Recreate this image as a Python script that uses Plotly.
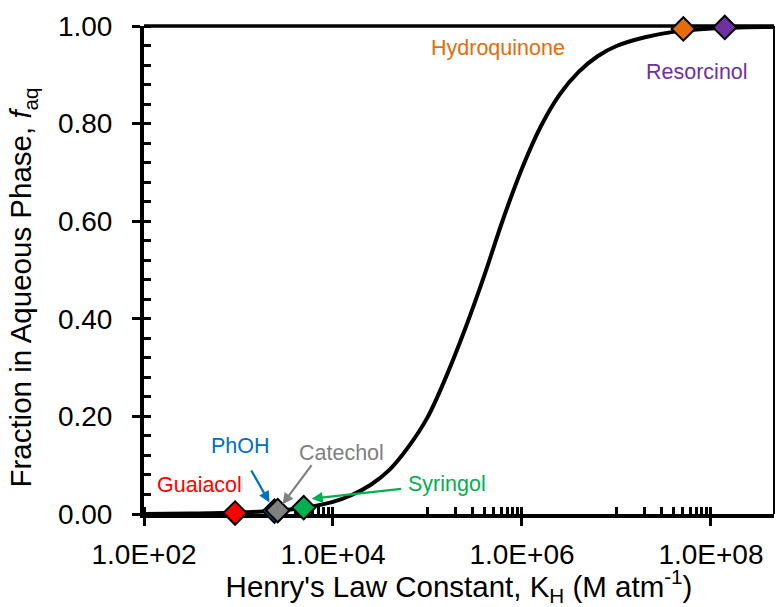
import math
import plotly.graph_objects as go

# ---- data ----
K_curve = [1.0e2, 3.16e2, 1.0e3, 2.51e3, 5.01e3, 1.0e4, 1.58e4, 2.51e4, 3.98e4, 6.31e4,
           1.0e5, 1.58e5, 2.51e5, 3.98e5, 6.31e5, 1.0e6, 1.58e6, 2.51e6, 3.98e6, 6.31e6,
           1.0e7, 2.0e7, 3.98e7, 1.0e8, 4.6e8]
f_curve = [0.000, 0.001, 0.003, 0.007, 0.013, 0.025, 0.039, 0.060, 0.091, 0.138,
           0.198, 0.282, 0.380, 0.488, 0.604, 0.708, 0.794, 0.860, 0.906, 0.938,
           0.959, 0.977, 0.988, 0.995, 0.998]

compounds = ["Guaiacol", "PhOH", "Catechol", "Syringol", "Hydroquinone", "Resorcinol"]
K_comp = [9.2e2, 2.4e3, 2.6e3, 4.9e3, 5.1e7, 1.4e8]
f_comp = [0.002, 0.006, 0.007, 0.013, 0.994, 0.997]
colors = ["#FF0000", "#0070C0", "#808080", "#00B050", "#E46C0A", "#7030A0"]

# label centres (K, f)
label_K = [3.86e2, 1.06e3, 1.23e4, 1.59e5, 5.64e5, 7.03e7]
label_f = [0.059, 0.139, 0.125, 0.062, 0.955, 0.906]

x_major = [1e2, 1e4, 1e6, 1e8]
x_major_text = ["1.0E+02", "1.0E+04", "1.0E+06", "1.0E+08"]
x_minor = [k * 10 ** e for e in (3, 5, 7) for k in range(1, 10)] + x_major
y_major = [0.0, 0.2, 0.4, 0.6, 0.8, 1.0]
y_major_text = ["0.00", "0.20", "0.40", "0.60", "0.80", "1.00"]
y_minor = [round(0.04 * i, 2) for i in range(26)]

x_title = "Henry's Law Constant, K<sub>H</sub> (M atm<sup>-1</sup>)"
y_title = "Fraction in Aqueous Phase, <i>f</i><sub>aq</sub>"

FONT = "Liberation Sans, Arial, Helvetica, sans-serif"

fig = go.Figure()
fig.add_trace(go.Scatter(x=K_curve, y=f_curve, mode="lines",
                         line=dict(color="black", width=4, shape="spline", smoothing=1.0),
                         hoverinfo="skip", showlegend=False, cliponaxis=False))
for name, k, f, c in zip(compounds, K_comp, f_comp, colors):
    fig.add_trace(go.Scatter(x=[k], y=[f], mode="markers", name=name,
                             marker=dict(symbol="diamond", size=18, color=c,
                                         line=dict(color="black", width=2)),
                             showlegend=False, cliponaxis=False))

# text labels
for name, k, f, c in zip(compounds, label_K, label_f, colors):
    fig.add_annotation(x=math.log10(k), y=f, xref="x", yref="y", text=name,
                       showarrow=False, font=dict(family=FONT, size=21.5, color=c),
                       xanchor="center", yanchor="middle")

# arrows (PhOH, Catechol, Syringol)
arrows = [(1, -24, -42, 10, 0), (2, 35, -47, 8, 0), (3, 99, -11, 8, 8)]
for idx, axp, ayp, so, ys in arrows:
    fig.add_annotation(x=math.log10(K_comp[idx]), y=f_comp[idx], xref="x", yref="y",
                       text="", showarrow=True, ax=axp, ay=ayp, standoff=so, yshift=ys,
                       arrowhead=2, arrowsize=1, arrowwidth=2.2, arrowcolor=colors[idx])

# y-axis title (placed as rotated text, as in the reference it sits below centre)
fig.add_annotation(x=-0.192, y=0.464, xref="paper", yref="paper", text=y_title,
                   textangle=-90, showarrow=False, xanchor="center", yanchor="middle",
                   font=dict(family=FONT, size=29.5, color="black"))

# frame: top and right
fig.add_shape(type="line", xref="paper", yref="paper", x0=0, x1=1, y0=1, y1=1,
              line=dict(color="black", width=3.5), layer="below")
fig.add_shape(type="line", xref="paper", yref="paper", x0=1, x1=1, y0=0, y1=1,
              line=dict(color="black", width=2), layer="below")

fig.update_xaxes(type="log", range=[2, 8.667], tickmode="array", tickvals=x_major,
                 ticktext=x_major_text, ticks="outside", ticklen=8, tickwidth=3,
                 tickcolor="black", showline=True, linecolor="black", linewidth=4,
                 showgrid=False, zeroline=False, layer="below traces", automargin=False,
                 ticklabelstandoff=4,
                 tickfont=dict(family=FONT, size=28, color="black"),
                 minor=dict(tickmode="array", tickvals=x_minor, ticks="inside",
                            ticklen=7, tickwidth=3, tickcolor="black", showgrid=False),
                 title=dict(text=x_title,
                            font=dict(family=FONT, size=29.5, color="black"), standoff=9))
fig.update_yaxes(range=[0, 1], tickmode="array", tickvals=y_major, ticktext=y_major_text,
                 ticks="outside", ticklen=8, tickwidth=3, tickcolor="black",
                 showline=True, linecolor="black", linewidth=4, showgrid=False,
                 zeroline=False, layer="below traces", automargin=False,
                 ticklabelstandoff=14,
                 tickfont=dict(family=FONT, size=28, color="black"),
                 minor=dict(tickmode="array", tickvals=y_minor, ticks="inside",
                            ticklen=7, tickwidth=3, tickcolor="black", showgrid=False))

fig.update_layout(width=777, height=607, margin=dict(l=144, r=3, t=26, b=93),
                  paper_bgcolor="white", plot_bgcolor="white",
                  font=dict(family=FONT, color="black"))
fig.write_html("out.html", config={"displayModeBar": False},
               post_script="document.body.style.margin='0';document.body.style.padding='0';")
